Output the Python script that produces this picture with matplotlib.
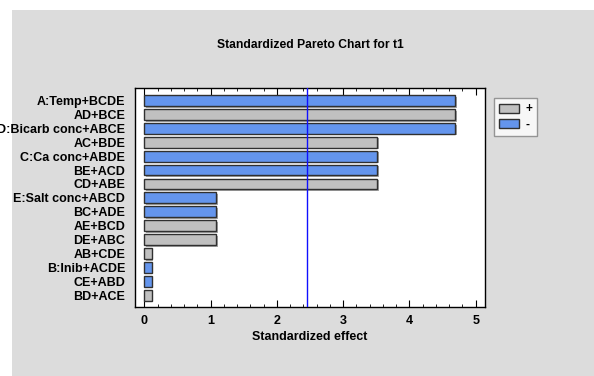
import matplotlib.pyplot as plt
import matplotlib.patheffects as pe
from matplotlib.patches import Rectangle, Patch
from matplotlib.ticker import MultipleLocator

plt.rcParams['font.family'] = ['Liberation Sans', 'DejaVu Sans']

effects = ['A:Temp+BCDE', 'AD+BCE', 'D:Bicarb conc+ABCE', 'AC+BDE', 'C:Ca conc+ABDE',
           'BE+ACD', 'CD+ABE', 'E:Salt conc+ABCD', 'BC+ADE', 'AE+BCD', 'DE+ABC',
           'AB+CDE', 'B:Inib+ACDE', 'CE+ABD', 'BD+ACE']
std_effect = [4.69, 4.69, 4.69, 3.51, 3.51, 3.51, 3.51, 1.08, 1.08, 1.08, 1.08,
              0.11, 0.11, 0.11, 0.11]
sign = ['-', '+', '-', '+', '-', '-', '+', '-', '-', '+', '+', '+', '-', '-', '+']
t_crit = 2.45

pos_color = '#c0c0c0'
neg_color = '#6495ed'

fig = plt.figure(figsize=(5.94, 3.76), dpi=100)
fig.patch.set_facecolor('white')
fig.patches.append(Rectangle((12 / 594, 0), 1, 1 - 10 / 376, transform=fig.transFigure,
                             facecolor='#dcdcdc', edgecolor='none', zorder=-10))

ax = fig.add_axes([135 / 594, 1 - 307 / 376, 350 / 594, 219 / 376])
ax.set_facecolor('white')

colors = [pos_color if s == '+' else neg_color for s in sign]
ypos = list(range(len(effects)))
bars = ax.barh(ypos, std_effect, height=0.78, color=colors, edgecolor='#303030',
               linewidth=1.0, zorder=2)
for b in bars:
    b.set_path_effects([pe.SimplePatchShadow(offset=(1.2, -1.2), shadow_rgbFace='#909090', alpha=0.8),
                        pe.Normal()])

ax.axvline(t_crit, color='#1010ff', linewidth=1.0, zorder=3)

ax.set_xlim(-0.14, 5.14)
ax.set_ylim(14.85, -0.9)
ax.set_yticks(ypos)
ax.set_yticklabels(effects, fontsize=9, fontweight='bold')
ax.tick_params(axis='y', length=0, pad=7)
ax.xaxis.set_major_locator(MultipleLocator(1))
ax.xaxis.set_minor_locator(MultipleLocator(0.2))
ax.tick_params(axis='x', which='major', direction='in', length=5, top=True, labelsize=9, pad=6)
ax.tick_params(axis='x', which='minor', direction='in', length=2.5, top=True)
for lab in ax.get_xticklabels():
    lab.set_fontweight('bold')
for sp in ax.spines.values():
    sp.set_linewidth(1.0)
    sp.set_color('black')

ax.set_xlabel('Standardized effect', fontsize=9, fontweight='bold', labelpad=3)
fig.text(310 / 594, 1 - 45 / 376, 'Standardized Pareto Chart for t1', ha='center', va='center',
         fontsize=8.7, fontweight='bold')

handles = [Patch(facecolor=pos_color, edgecolor='#303030', label='+'),
           Patch(facecolor=neg_color, edgecolor='#303030', label='-')]
leg = fig.legend(handles=handles, loc='upper left', bbox_to_anchor=(494 / 594, 1 - 98 / 376),
                 bbox_transform=fig.transFigure, borderaxespad=0, fontsize=8.5, frameon=True,
                 fancybox=False, handlelength=1.7, handleheight=0.8, handletextpad=0.5,
                 labelspacing=0.3, borderpad=0.45)
leg.get_frame().set_edgecolor('#808080')
leg.get_frame().set_linewidth(1.0)
for t in leg.get_texts():
    t.set_fontweight('bold')

fig.savefig('out.png', dpi=100)
